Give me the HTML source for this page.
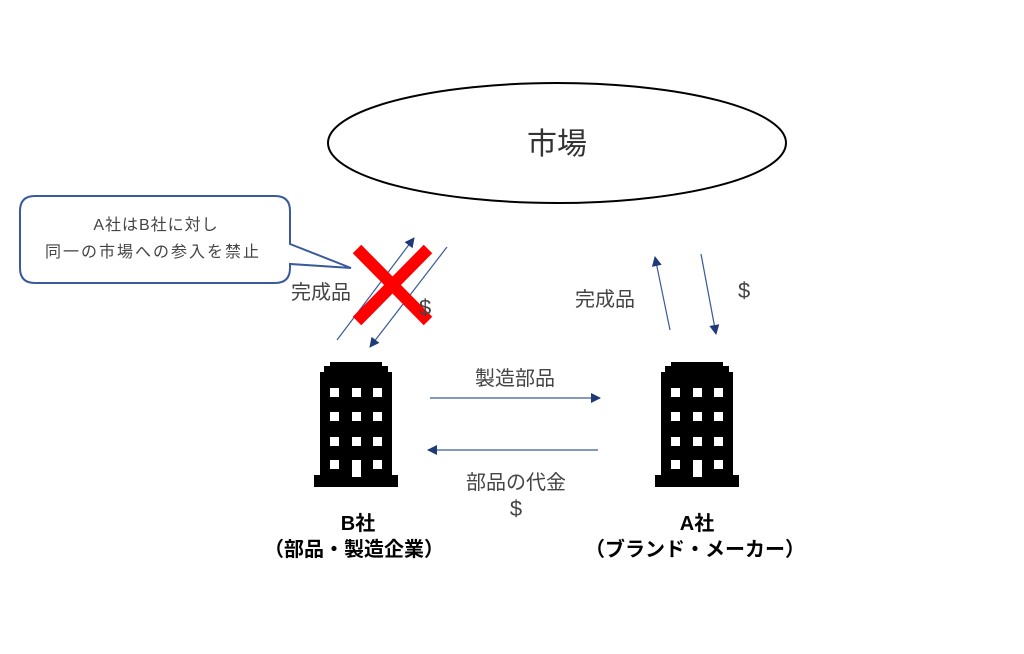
<!DOCTYPE html>
<html><head><meta charset="utf-8"><style>
html,body{margin:0;padding:0;background:#fff;}
svg text{font-family:"Liberation Sans","Noto Sans CJK JP",sans-serif;}
</style></head><body>
<svg width="1024" height="649" viewBox="0 0 1024 649" xmlns="http://www.w3.org/2000/svg">
<defs>
<marker id="ah" viewBox="0 0 10 10" refX="9" refY="5" markerWidth="11" markerHeight="10" orient="auto" markerUnits="userSpaceOnUse">
<path d="M0,0 L10,5 L0,10 z" fill="#1f3a78"/></marker>
<g id="bld">
<path d="M-42,125 L-42,113 L-36,113 L-36,10 L-32,10 L-32,4 L-26,4 L-26,0 L26,0 L26,4 L32,4 L32,10 L36,10 L36,113 L42,113 L42,125 Z" fill="#000"/>
<g fill="#fff">
<rect x="-26" y="26" width="9" height="9"/><rect x="-4" y="26" width="9" height="9"/><rect x="17" y="26" width="9" height="9"/>
<rect x="-26" y="50" width="9" height="9"/><rect x="-4" y="50" width="9" height="9"/><rect x="17" y="50" width="9" height="9"/>
<rect x="-26" y="75" width="9" height="9"/><rect x="-4" y="75" width="9" height="9"/><rect x="17" y="75" width="9" height="9"/>
<rect x="-26" y="98" width="9" height="9"/><rect x="-4" y="98" width="9" height="17"/><rect x="17" y="98" width="9" height="9"/>
</g></g>
</defs>
<ellipse cx="557" cy="143" rx="229" ry="60" fill="#fff" stroke="#000" stroke-width="2"/>
<text x="557" y="154" font-size="30" text-anchor="middle" fill="#333">市場</text>

<path d="M35,196 H275 Q290,196 290,211 V244 L351,268 L290,264 V268 Q290,283 275,283 H35 Q20,283 20,268 V211 Q20,196 35,196 Z" fill="#fff" stroke="#3a5a9a" stroke-width="2"/>
<text x="156" y="230" font-size="16" text-anchor="middle" fill="#444" letter-spacing="1">A社はB社に対し</text>
<text x="153" y="257" font-size="16" text-anchor="middle" fill="#444" letter-spacing="2">同一の市場への参入を禁止</text>

<line x1="337" y1="340" x2="414" y2="238" stroke="#3a5a9a" stroke-width="1.2" marker-end="url(#ah)"/>
<line x1="447" y1="247" x2="370" y2="347" stroke="#3a5a9a" stroke-width="1.2" marker-end="url(#ah)"/>
<line x1="357" y1="249" x2="428" y2="321" stroke="#ff0000" stroke-width="12"/>
<line x1="428" y1="249" x2="357" y2="321" stroke="#ff0000" stroke-width="12"/>
<text x="291" y="299" font-size="20" fill="#444">完成品</text>
<text x="419" y="315" font-size="22" fill="#444">$</text>

<line x1="670" y1="330" x2="655" y2="257" stroke="#3a5a9a" stroke-width="1.2" marker-end="url(#ah)"/>
<line x1="701" y1="254" x2="716" y2="334" stroke="#3a5a9a" stroke-width="1.2" marker-end="url(#ah)"/>
<text x="575" y="306" font-size="20" fill="#444">完成品</text>
<text x="738" y="298" font-size="22" fill="#444">$</text>

<line x1="430" y1="398" x2="600" y2="398" stroke="#3a5a9a" stroke-width="1.2" marker-end="url(#ah)"/>
<line x1="598" y1="450" x2="428" y2="450" stroke="#3a5a9a" stroke-width="1.2" marker-end="url(#ah)"/>
<text x="515" y="385" font-size="20" text-anchor="middle" fill="#444">製造部品</text>
<text x="516" y="489" font-size="20" text-anchor="middle" fill="#444">部品の代金</text>
<text x="516" y="516" font-size="22" text-anchor="middle" fill="#444">$</text>

<use href="#bld" x="356" y="362"/>
<use href="#bld" x="697" y="362"/>

<text x="358" y="530" font-size="20" font-weight="bold" text-anchor="middle" fill="#000">B社</text>
<text x="354" y="556" font-size="20" font-weight="bold" text-anchor="middle" fill="#000">（部品・製造企業）</text>
<text x="697" y="530" font-size="20" font-weight="bold" text-anchor="middle" fill="#000">A社</text>
<text x="695" y="556" font-size="20" font-weight="bold" text-anchor="middle" fill="#000">（ブランド・メーカー）</text>
</svg>
</body></html>
